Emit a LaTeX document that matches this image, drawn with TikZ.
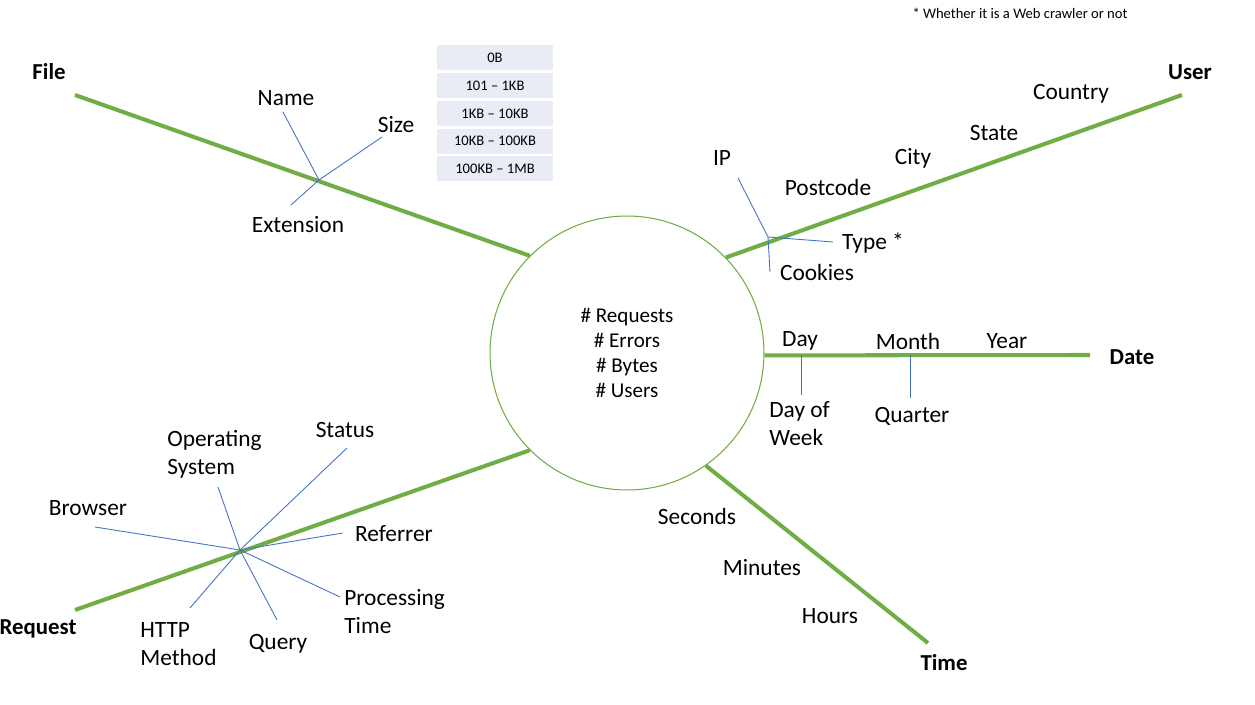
\documentclass[tikz,border=0pt]{standalone}
\usepackage{fontspec}
\setmainfont{Carlito}
\usetikzlibrary{positioning}
\definecolor{axisgreen}{HTML}{70AD47}
\definecolor{attrblue}{HTML}{4472C4}
\definecolor{cellfill}{HTML}{E9EBF5}
\begin{document}
\begin{tikzpicture}[x=0.02cm, y=-0.02cm,
    axis/.style={draw=axisgreen, line width=2.3pt},
    attr/.style={draw=attrblue, line width=0.5pt},
    lbl/.style={font=\fontsize{13.3}{15.9}\selectfont, align=left, inner sep=0pt},
    dim/.style={font=\fontsize{13}{15}\selectfont\bfseries, inner sep=0pt},
    cell/.style={fill=cellfill, minimum width=2.32cm, minimum height=0.5cm,
        inner sep=0pt, font=\fontsize{8.3}{10}\selectfont}
]
\useasboundingbox (0,0) rectangle (1255,705);

% fact in the middle
\node[circle, draw=axisgreen, line width=0.6pt, minimum size=5.48cm, inner sep=0pt,
    align=center, font=\fontsize{12}{14.2}\selectfont] (Hub) at (627,353)
    {\# Requests\\ \# Errors\\ \# Bytes\\ \# Users};

% dimension names
\node[dim] (File) at (49,72) {File};
\node[dim] (User) at (1190,72) {User};
\node[dim] (Date) at (1132,357) {Date};
\node[dim] (Time) at (944,663) {Time};
\node[dim] (Request) at (38,629) {Request};

\coordinate (FileEnd) at (75,95);
\coordinate (UserEnd) at (1182,95);
\coordinate (DateEnd) at (1090,355);
\coordinate (TimeEnd) at (928,643);
\coordinate (RequestEnd) at (75,610);

\draw[axis] (Hub.135) -- (FileEnd);
\draw[axis] (Hub.44) -- (UserEnd);
\draw[axis] (Hub.-1) -- (DateEnd);
\draw[axis] (Hub.-55) -- (TimeEnd);
\draw[axis] (Hub.-135) -- (RequestEnd);

% File
\node[lbl] (Name) at (286,98) {Name};
\node[lbl] (Size) at (396,125) {Size};
\node[lbl] (Extension) at (298,225) {Extension};
\coordinate (FileJoin) at (319,180);
\coordinate (NameEnd) at (283,112);
\coordinate (SizeEnd) at (382,137);
\coordinate (ExtEnd) at (291,205);
\draw[attr] (FileJoin) -- (NameEnd);
\draw[attr] (FileJoin) -- (SizeEnd);
\draw[attr] (FileJoin) -- (ExtEnd);

\node[cell] (B0) at (495,58) {0B};
\node[cell, below=0.04cm of B0] (B1) {101 – 1KB};
\node[cell, below=0.04cm of B1] (B2) {1KB – 10KB};
\node[cell, below=0.04cm of B2] (B3) {10KB – 100KB};
\node[cell, below=0.04cm of B3] (B4) {100KB – 1MB};

% User
\node[lbl] (IP) at (722,158) {IP};
\node[lbl] (Postcode) at (828,187) {Postcode};
\node[lbl] (City) at (913,158) {City};
\node[lbl] (State) at (994,133) {State};
\node[lbl] (Country) at (1071,94) {Country};
\node[lbl] (Type) at (873,243) {Type *};
\node[lbl] (Cookies) at (817,272) {Cookies};
\coordinate (UserJoin) at (768,237);
\coordinate (IPEnd) at (738,178);
\coordinate (TypeEnd) at (833,242);
\coordinate (CookiesEnd) at (770,272);
\draw[attr] (UserJoin) -- (IPEnd);
\draw[attr] (UserJoin) -- (TypeEnd);
\draw[attr] (UserJoin) -- (CookiesEnd);
\node[font=\fontsize{8.3}{10}\selectfont, inner sep=0pt] (Note) at (1020,13)
    {* Whether it is a Web crawler or not};

% Date
\node[lbl] (Day) at (800,341) {Day};
\node[lbl] (Month) at (908,341) {Month};
\node[lbl] (Year) at (1007,341) {Year};
\node[lbl, anchor=west] (DayOfWeek) at (769,424) {Day of\\Week};
\node[lbl] (Quarter) at (912,416) {Quarter};
\coordinate (DayTop) at (801,355);
\coordinate (DayBot) at (801,395);
\coordinate (MonthTop) at (910,355);
\coordinate (MonthBot) at (910,398);
\draw[attr] (DayTop) -- (DayBot);
\draw[attr] (MonthTop) -- (MonthBot);

% Time
\node[lbl] (Seconds) at (697,516) {Seconds};
\node[lbl] (Minutes) at (762,568) {Minutes};
\node[lbl] (Hours) at (830,616) {Hours};

% Request
\node[lbl, anchor=west] (OS) at (167,454) {Operating\\System};
\node[lbl] (Status) at (345,430) {Status};
\node[lbl] (Browser) at (88,508) {Browser};
\node[lbl] (Referrer) at (394,534) {Referrer};
\node[lbl, anchor=west] (Processing) at (344,612) {Processing\\Time};
\node[lbl, anchor=west] (HTTP) at (140,644) {HTTP\\Method};
\node[lbl] (Query) at (278,644) {Query};
\coordinate (ReqJoin) at (240,550);
\coordinate (BrowserEnd) at (95,527);
\coordinate (OSEnd) at (218,487);
\coordinate (StatusEnd) at (347,448);
\coordinate (ReferrerEnd) at (343,533);
\coordinate (ProcEnd) at (340,597);
\coordinate (QueryEnd) at (277,620);
\coordinate (HTTPEnd) at (190,608);
\foreach \e in {BrowserEnd,OSEnd,StatusEnd,ReferrerEnd,ProcEnd,QueryEnd,HTTPEnd}
    \draw[attr] (ReqJoin) -- (\e);

\end{tikzpicture}
\end{document}
